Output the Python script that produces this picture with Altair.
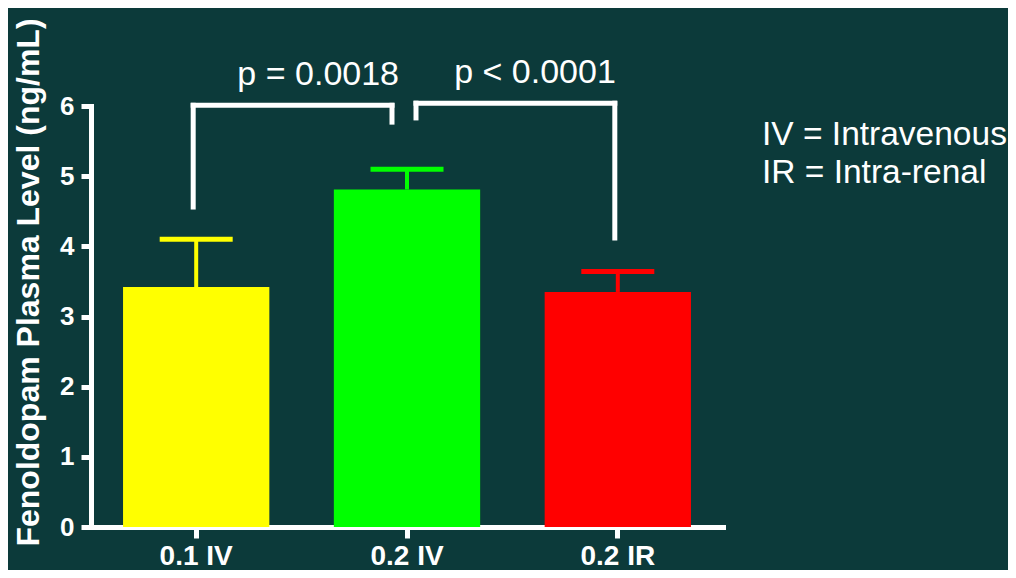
import altair as alt
import pandas as pd

# ---- data ----
categories = ["0.1 IV", "0.2 IV", "0.2 IR"]
means = [3.42, 4.81, 3.35]
uppers = [4.10, 5.10, 3.64]
bar_colors = ["#ffff00", "#00ff00", "#ff0000"]

bracket_from = ["0.1 IV", "0.2 IV"]
bracket_to = ["0.2 IV", "0.2 IR"]
bracket_top = [6.01, 6.04]
bracket_from_end = [4.56, 5.83]
bracket_to_end = [5.77, 4.12]
p_labels = ["p = 0.0018", "p < 0.0001"]
p_label_y = [6.30, 6.33]

note_lines = ["IV = Intravenous", "IR = Intra-renal"]

# ---- styles ----
FONT = "Liberation Sans"
BG = "#0c3a3a"
bracket_from_dx = [-3, 9]
bracket_to_dx = [-15, -3]
p_label_dx = [122, 128]
note_x = 671
note_y = [39, 77]

xscale = alt.Scale(domain=categories, paddingInner=0.306, paddingOuter=0.152)
yscale = alt.Scale(domain=[0, 6])
cscale = alt.Scale(domain=categories, range=bar_colors)

df = pd.DataFrame({"cat": categories, "mean": means, "upper": uppers})

bars = alt.Chart(df).mark_bar().encode(
    x=alt.X("cat:N", scale=xscale, sort=categories, title=None,
            axis=alt.Axis(labelAngle=0, labelAlign="center", labelBaseline="top",
                          labelFont=FONT, labelFontSize=28,
                          labelFontWeight="bold", labelColor="white",
                          domainColor="white", domainWidth=5, domainCap="square",
                          tickColor="white", tickWidth=5, tickSize=11,
                          labelPadding=4)),
    y=alt.Y("mean:Q", scale=yscale,
            title="Fenoldopam Plasma Level (ng/mL)",
            axis=alt.Axis(values=[0, 1, 2, 3, 4, 5, 6], format="d", grid=False,
                          labelFont=FONT, labelFontSize=26, labelFontWeight="bold",
                          labelColor="white", domainColor="white", domainWidth=5,
                          domainCap="square", tickColor="white", tickWidth=5,
                          tickSize=10, labelPadding=7,
                          titleFont=FONT, titleFontSize=32, titleFontWeight="bold",
                          titleColor="white", titleAngle=-90,
                          titleBaseline="alphabetic", titleAlign="center",
                          titleX=-53, titleY=176)),
    color=alt.Color("cat:N", scale=cscale, legend=None),
)

err_stem = alt.Chart(df).mark_rule(strokeWidth=4, opacity=1).encode(
    x=alt.X("cat:N", scale=xscale, sort=categories),
    y=alt.Y("mean:Q", scale=yscale),
    y2="upper:Q",
    color=alt.Color("cat:N", scale=cscale, legend=None),
)

err_cap = alt.Chart(df).mark_tick(size=73, thickness=5, opacity=1).encode(
    x=alt.X("cat:N", scale=xscale, sort=categories),
    y=alt.Y("upper:Q", scale=yscale),
    color=alt.Color("cat:N", scale=cscale, legend=None),
)

layers = [bars, err_stem, err_cap]

for i in range(len(bracket_from)):
    bdf = pd.DataFrame({
        "a": [bracket_from[i]], "b": [bracket_to[i]],
        "top": [bracket_top[i]], "ea": [bracket_from_end[i]],
        "eb": [bracket_to_end[i]], "label": [p_labels[i]], "ly": [p_label_y[i]],
    })
    base = alt.Chart(bdf)
    horiz = base.mark_rule(color="white", strokeWidth=5, strokeCap="square",
                           xOffset=bracket_from_dx[i], x2Offset=bracket_to_dx[i]).encode(
        x=alt.X("a:N", scale=xscale, sort=categories),
        x2="b:N",
        y=alt.Y("top:Q", scale=yscale),
    )
    leg_a = base.mark_rule(color="white", strokeWidth=5, strokeCap="square",
                           xOffset=bracket_from_dx[i]).encode(
        x=alt.X("a:N", scale=xscale, sort=categories),
        y=alt.Y("top:Q", scale=yscale),
        y2="ea:Q",
    )
    leg_b = base.mark_rule(color="white", strokeWidth=5, strokeCap="square",
                           xOffset=bracket_to_dx[i]).encode(
        x=alt.X("b:N", scale=xscale, sort=categories),
        y=alt.Y("top:Q", scale=yscale),
        y2="eb:Q",
    )
    ptext = base.mark_text(color="white", font=FONT, fontSize=34,
                           align="center", baseline="alphabetic",
                           dx=p_label_dx[i]).encode(
        x=alt.X("a:N", scale=xscale, sort=categories),
        y=alt.Y("ly:Q", scale=yscale),
        text="label:N",
    )
    layers += [horiz, leg_a, leg_b, ptext]

for i, line in enumerate(note_lines):
    ndf = pd.DataFrame({"t": [line]})
    layers.append(
        alt.Chart(ndf).mark_text(color="white", font=FONT, fontSize=33.5,
                                 align="left", baseline="alphabetic").encode(
            x=alt.value(note_x), y=alt.value(note_y[i]), text="t:N")
    )

chart = alt.layer(*layers).properties(
    width=632, height=421,
    padding={"left": 83, "top": 98, "right": 285, "bottom": 43},
    autosize=alt.AutoSizeParams(type="none"),
    background=BG,
).configure_view(stroke=None)

chart.save("out.html", embed_options={"renderer": "svg", "actions": False})
